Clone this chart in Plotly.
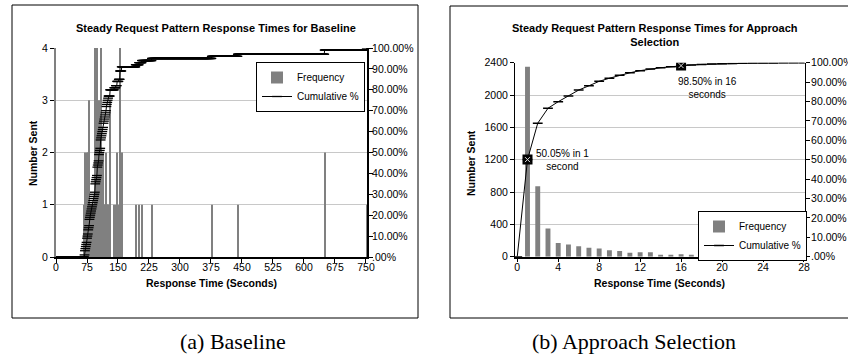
import numpy as np
import plotly.graph_objects as go

# ---------------- data: (a) Baseline ----------------
base_times = [69, 70, 71, 72, 73, 74, 75, 76, 77, 78, 79, 80, 81, 82, 83, 84, 85,
              86, 87, 88, 89, 90, 91, 92, 93, 94, 95, 96, 97, 98, 99, 100, 101, 102, 103, 104, 105, 106,
              107, 108, 109, 110, 111, 112, 113, 114, 115, 116, 117, 118, 119, 120, 121, 122, 123, 124, 125, 126,
              127, 131, 141, 145, 148, 152, 155, 159, 193, 201, 208, 232, 377, 440, 650, 752]
base_counts = [1, 2, 1, 1, 1, 1, 2, 1, 1, 2, 1, 1, 3, 1, 1, 1, 1,
               1, 1, 1, 1, 1, 1, 1, 1, 1, 4, 1, 1, 1, 1, 4, 1, 1, 1, 3, 1, 1,
               1, 4, 1, 1, 1, 1, 1, 1, 2, 1, 1, 1, 1, 1, 1, 2, 1, 1, 1, 1,
               1, 3, 1, 1, 2, 1, 4, 2, 1, 1, 1, 1, 1, 1, 2, 1]
base_last_bin = 752
base_xticks = [0, 75, 150, 225, 300, 375, 450, 525, 600, 675, 750]

# ---------------- data: (b) Approach Selection ----------------
ap_x = list(range(0, 29))
ap_freq = [0, 2350, 870, 350, 170, 150, 130, 110, 100, 80, 70, 50, 55, 55, 25, 20, 30,
           15, 10, 10, 10, 8, 6, 6, 5, 4, 3, 3, 3]
ap_cum = [0, 50.05, 68.8, 76.5, 79.9, 82.8, 85.9, 88.1, 90.4, 92.0, 93.5, 94.8, 95.9, 96.7,
          97.4, 97.9, 98.5, 98.8, 99.1, 99.3, 99.5, 99.6, 99.7, 99.8, 99.85, 99.9, 99.95, 100, 100]
ap_xticks = [0, 4, 8, 12, 16, 20, 24, 28]
ap_highlight = [1, 16]

pct_vals = [i / 10 for i in range(11)]
pct_text = [".00%"] + [f"{i*10}.00%" for i in range(1, 11)]

# cumulative % for baseline (from frequencies)
bins = np.arange(0, base_last_bin + 1)
freq = np.zeros(len(bins))
for t, c in zip(base_times, base_counts):
    freq[t] += c
base_cum = np.cumsum(freq) / freq.sum()

W, H = 848, 364
def px(x):
    return x / W
def py(y):
    return 1 - y / H

FONT = "Liberation Sans, Arial, sans-serif"
GRAY = "#808080"

fig = go.Figure()

# ---- left chart
fig.add_trace(go.Bar(x=base_times, y=base_counts, width=2.6, name="Frequency",
                     marker=dict(color=GRAY, line=dict(width=0)),
                     xaxis="x", yaxis="y", legend="legend"))
fig.add_trace(go.Scatter(x=bins, y=base_cum, name="Cumulative %", mode="lines+markers",
                         line=dict(color="black", width=1),
                         marker=dict(symbol="line-ew", size=7, color="black",
                                     line=dict(color="black", width=1.3)),
                         xaxis="x", yaxis="y2", legend="legend"))

# ---- right chart
fig.add_trace(go.Bar(x=ap_x, y=ap_freq, width=0.48, name="Frequency",
                     marker=dict(color=GRAY, line=dict(width=0)),
                     xaxis="x2", yaxis="y3", legend="legend2"))
fig.add_trace(go.Scatter(x=ap_x, y=[v / 100 for v in ap_cum], name="Cumulative %",
                         mode="lines+markers",
                         line=dict(color="black", width=1),
                         marker=dict(symbol="line-ew", size=7, color="black",
                                     line=dict(color="black", width=1.5)),
                         xaxis="x2", yaxis="y4", legend="legend2"))
hx = [ap_x[i] for i in ap_highlight]
hy = [ap_cum[i] / 100 for i in ap_highlight]
fig.add_trace(go.Scatter(x=hx, y=hy, mode="markers", showlegend=False, hoverinfo="skip",
                         marker=dict(symbol="square", size=10, color="black"),
                         xaxis="x2", yaxis="y4"))
fig.add_trace(go.Scatter(x=hx, y=hy, mode="markers", showlegend=False, hoverinfo="skip",
                         marker=dict(symbol="x-thin", size=5, color="#dddddd",
                                     line=dict(color="#dddddd", width=1)),
                         xaxis="x2", yaxis="y4"))

tickfont = dict(family=FONT, size=10.5, color="black")
common_x = dict(showgrid=False, zeroline=False, showline=True, linecolor="black", linewidth=1.5,
                ticks="outside", ticklen=4, tickcolor="black", tickfont=tickfont, automargin=False,
                ticklabelstandoff=-4)
common_y = dict(zeroline=False, showline=True, ticks="outside", ticklen=4, tickcolor="black",
                tickfont=tickfont, automargin=False)
grid = dict(gridcolor="#c8c8c8", gridwidth=1)

fig.update_layout(
    width=W, height=H, autosize=False,
    margin=dict(l=0, r=0, t=0, b=0, pad=0, autoexpand=False),
    paper_bgcolor="white", plot_bgcolor="white",
    barmode="overlay",
    font=dict(family=FONT, size=10.5, color="black"),
    xaxis=dict(domain=[px(56), px(367)], range=[0, 752.5], tickvals=base_xticks,
               anchor="y", **common_x),
    yaxis=dict(domain=[py(257), py(48)], range=[0, 4], dtick=1, showgrid=True,
               linecolor=GRAY, linewidth=2, anchor="x", **common_y, **grid),
    yaxis2=dict(overlaying="y", side="right", anchor="x", range=[0, 1], tickvals=pct_vals,
                ticktext=pct_text, showgrid=False, linecolor="black", linewidth=2,
                ticklabelstandoff=-3, **common_y),
    xaxis2=dict(domain=[px(515), px(805)], range=[-0.22, 28.1], tickvals=ap_xticks,
                anchor="y3", **common_x),
    yaxis3=dict(domain=[py(256.7), py(62.7)], range=[0, 2400], dtick=400, showgrid=True,
                linecolor="black", linewidth=1, anchor="x2", **common_y, **grid),
    yaxis4=dict(overlaying="y3", side="right", anchor="x2", range=[0, 1], tickvals=pct_vals,
                ticktext=pct_text, showgrid=False, linecolor="black", linewidth=1,
                ticklabelstandoff=-1, **common_y),
    legend=dict(x=px(256), y=py(62), xanchor="left", yanchor="top", bgcolor="white",
                bordercolor="black", borderwidth=1, font=dict(family=FONT, size=10),
                tracegroupgap=0, itemwidth=30),
    legend2=dict(x=px(698), y=py(211), xanchor="left", yanchor="top", bgcolor="white",
                 bordercolor="black", borderwidth=1, font=dict(family=FONT, size=10),
                 tracegroupgap=0, itemwidth=30),
    showlegend=True,
)

def note(text, x, y, font, **kw):
    d = dict(text=text, x=px(x), y=py(y), xref="paper", yref="paper", showarrow=False,
             font=font, xanchor="center", yanchor="middle")
    d.update(kw)
    return d

bold = dict(family=FONT, size=11, color="black")
axt = dict(family=FONT, size=10.5, color="black")
ann = [
    note("<b>Steady Request Pattern Response Times for Baseline</b>", 216, 28, bold),
    note("<b>Steady Request Pattern Response Times for Approach<br>Selection</b>", 655, 35.5, bold),
    note("<b>Response Time (Seconds)</b>", 211, 283, axt),
    note("<b>Response Time (Seconds)</b>", 659, 283, axt),
    note("<b>Number Sent</b>", 33, 153, axt, textangle=-90),
    note("<b>Number Sent</b>", 471, 163, axt, textangle=-90),
]
# data labels
lab = dict(family=FONT, size=10, color="black")
ann.append(dict(text=f"{ap_cum[1]:.2f}% in {ap_x[1]}<br>second", x=ap_x[1], y=ap_cum[1] / 100,
                xref="x2", yref="y4", showarrow=False, xanchor="left", yanchor="middle",
                xshift=7, align="center", font=lab))
ann.append(dict(text=f"{ap_cum[16]:.2f}% in {ap_x[16]}<br>seconds", x=ap_x[16], y=ap_cum[16] / 100,
                xref="x2", yref="y4", showarrow=False, xanchor="left", yanchor="top",
                xshift=-5, yshift=-8, align="center", font=lab))
# captions
cap = dict(family="Liberation Serif, Times New Roman, serif", size=22, color="black")
ann.append(note("(a) Baseline", 233, 341, cap))
ann.append(note("(b) Approach Selection", 634, 341, cap))
fig.update_layout(annotations=ann)

fig.update_layout(shapes=[
    dict(type="rect", xref="paper", yref="paper", x0=px(12), x1=px(418), y0=py(318), y1=py(5),
         line=dict(color="black", width=1), layer="below"),
    dict(type="rect", xref="paper", yref="paper", x0=px(450), x1=px(860), y0=py(318), y1=py(6),
         line=dict(color="black", width=1), layer="below"),
])

fig.write_html("out.html", config={"displayModeBar": False},
               post_script="document.body.style.margin='0px';document.body.style.overflow='hidden';")
